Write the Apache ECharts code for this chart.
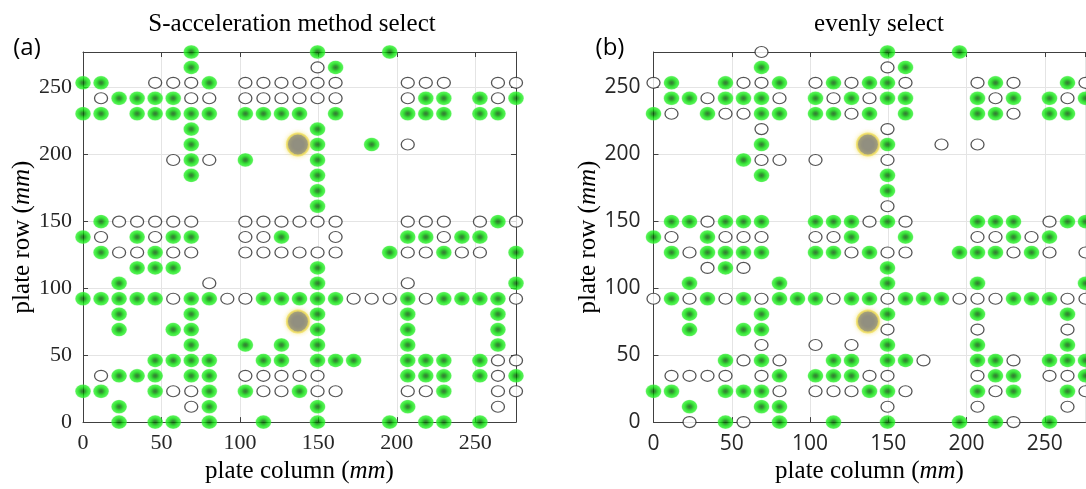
<!DOCTYPE html>
<html>
<head>
<meta charset="utf-8">
<script src="https://cdn.jsdelivr.net/npm/echarts@6/dist/echarts.min.js"></script>
<style>
html,body{margin:0;padding:0;background:#fff;}
#chart{width:1086px;height:489px;}
</style>
</head>
<body>
<div id="chart"></div>
<script>
// plate grid positions (mm), 25 columns / rows
const platePos = [0, 11.5, 23, 34.5, 46, 57.5, 69, 80.5, 92, 103.5, 115, 126.5, 138, 149.5, 161, 172.5, 184, 195.5, 207, 218.5, 230, 241.5, 253, 264.5, 276];
const tickValues = [0, 50, 100, 150, 200, 250];

// (a) S-acceleration method select: column indices per row (row 0 = bottom)
const aGreenCols = [
  [2,4,5,7,10,13,17,19,20,22],
  [2,7,13,18],
  [0,1,4,7,9,12,20],
  [2,3,4,6,7,18,19,20,22,24],
  [4,5,6,7,10,11,13,14,15,18,19,20,22],
  [6,9,11,13,18,23],
  [2,5,6,13,18,23],
  [2,6,13,18,23],
  [0,1,2,3,4,6,7,10,11,12,13,14,18,20,21,22,23],
  [2,13,24],
  [3,4,5,13],
  [1,4,17,20,24],
  [0,3,5,6,11,18,19,21,22],
  [1,23],
  [13],
  [13],
  [6,13],
  [6,9,13],
  [6,13,16],
  [6,13],
  [0,1,3,4,5,6,7,9,10,11,12,14,18,19,20,22,23],
  [2,3,4,5,19,20,22,24],
  [0,1,7],
  [6,14],
  [6,13,17]
];
const aOpenCols = [
  [],
  [6,23],
  [5,6,10,11,13,14,18,19,23,24],
  [1,9,10,11,12,13,23],
  [23,24],
  [],
  [],
  [],
  [5,8,9,15,16,17,19,24],
  [7,18],
  [],
  [2,3,5,6,9,10,11,12,13,14,18,19,21,22],
  [1,4,9,10,14,20],
  [2,3,4,5,6,9,10,11,12,13,14,18,19,20,22,24],
  [],
  [],
  [],
  [5,7],
  [18],
  [],
  [],
  [1,6,7,9,10,11,12,13,14,18,23],
  [4,5,6,9,10,11,12,13,14,18,19,20,23,24],
  [13],
  []
];

// (b) evenly select
const bGreenCols = [
  [4,7,10,13,17,19,22],
  [2,6,7],
  [0,1,4,5,6,12,13,18,20,23],
  [7,9,10,11,19,20,24],
  [4,6,10,11,13,14,18,19,22,23,24],
  [13,18,23],
  [2,5,6],
  [2,6,13,18,23],
  [1,3,5,7,8,9,11,12,14,15,16,20,21,22],
  [2,7,13,18,24],
  [4,13],
  [1,3,4,5,6,9,10,12,17,18,19,21],
  [0,3,11,14,20,22],
  [1,2,4,5,6,9,10,11,13,18,19,20,23,24],
  [],
  [13],
  [6,13],
  [5],
  [6,13],
  [],
  [0,3,6,7,9,10,12,14,18,19,22,23],
  [1,2,4,5,6,9,11,13,14,18,20,22,24],
  [1,4,7,10,12,13,19,23],
  [6,14],
  [13,17]
];
const bOpenCols = [
  [2,5,20],
  [13,18,23],
  [7,9,10,11,14,19,24],
  [1,2,3,4,6,12,13,18,22,23],
  [5,7,15,20],
  [6,9,11],
  [13,18,23],
  [],
  [0,2,4,6,10,13,17,18,19,23,24],
  [],
  [3,5],
  [2,11,13,14,20,22,24],
  [1,4,5,6,9,10,18,19,21],
  [3,12,14,22],
  [13],
  [],
  [],
  [6,7,9,13],
  [16,18],
  [6,13],
  [1,4,5,11,20],
  [3,7,10,12,19,23],
  [0,5,6,9,11,14,18,20,24],
  [13],
  [6]
];

// large grey support points (mm)
const supportPoints = [[137, 207], [137, 75]];

function toPoints(rows) {
  const pts = [];
  rows.forEach(function (cols, r) {
    cols.forEach(function (c) { pts.push([platePos[c], platePos[r]]); });
  });
  return pts;
}

const SERIF = '"Liberation Serif", "Times New Roman", serif';
const SANS = '"Open Sans", "Liberation Sans", sans-serif';

const greenStyle = {
  color: {
    type: 'radial', x: 0.5, y: 0.5, r: 0.5,
    colorStops: [
      { offset: 0, color: '#005a00' },
      { offset: 0.25, color: '#008400' },
      { offset: 0.45, color: '#00c400' },
      { offset: 0.65, color: '#10e610' },
      { offset: 0.88, color: '#2cee2c' },
      { offset: 1, color: 'rgba(80,240,80,0.55)' }
    ]
  }
};
const openStyle = { color: '#ffffff', borderColor: '#2a2a2a', borderWidth: 1.2 };
const greyStyle = { color: '#777777', borderColor: '#f2e060', borderWidth: 2, shadowBlur: 4, shadowColor: 'rgba(240,225,90,0.7)' };

function labelFmt(v) { return tickValues.indexOf(v) >= 0 ? String(v) : ''; }

function mainX(gi, font, size, margin) {
  return {
    gridIndex: gi, type: 'value', position: 'bottom', min: 0, max: 276, interval: 50,
    name: 'plate column ({i|mm})', nameLocation: 'middle', nameGap: 34,
    nameTextStyle: { fontFamily: SERIF, fontSize: 25, color: '#000', rich: { i: { fontFamily: SERIF, fontSize: 25, fontStyle: 'italic', color: '#000' } } },
    axisLine: { show: true, lineStyle: { color: '#404040', width: 1 } },
    axisTick: { show: true, inside: true, length: 5, lineStyle: { color: '#404040' } },
    axisLabel: { fontFamily: font, fontSize: size, color: '#262626', margin: margin, formatter: labelFmt, showMaxLabel: false },
    splitLine: { show: true, lineStyle: { color: '#e4e4e4', width: 1 } }
  };
}
function mainY(gi, font, size, margin, gap) {
  return {
    gridIndex: gi, type: 'value', position: 'left', min: 0, max: 276, interval: 50,
    name: 'plate row ({i|mm})', nameLocation: 'middle', nameGap: gap, nameRotate: 90,
    nameTextStyle: { fontFamily: SERIF, fontSize: 25, color: '#000', rich: { i: { fontFamily: SERIF, fontSize: 25, fontStyle: 'italic', color: '#000' } } },
    axisLine: { show: true, lineStyle: { color: '#404040', width: 1 } },
    axisTick: { show: true, inside: true, length: 5, lineStyle: { color: '#404040' } },
    axisLabel: { fontFamily: font, fontSize: size, color: '#262626', margin: margin, formatter: labelFmt, showMaxLabel: false },
    splitLine: { show: true, lineStyle: { color: '#e4e4e4', width: 1 } }
  };
}
function boxAxis(gi, pos) {
  return {
    gridIndex: gi, type: 'value', position: pos, min: 0, max: 276, interval: 50,
    axisLine: { show: true, onZero: false, lineStyle: { color: '#404040', width: 1 } },
    axisTick: { show: true, inside: true, length: 5, lineStyle: { color: '#404040' } },
    axisLabel: { show: false },
    splitLine: { show: false }
  };
}

function series(xi, yi, data, style, symbolSize, z) {
  return {
    type: 'scatter', xAxisIndex: xi, yAxisIndex: yi, data: data, symbol: 'circle',
    symbolSize: symbolSize, itemStyle: style, clip: false, silent: true, z: z,
    emphasis: { disabled: true }
  };
}

const chart = echarts.init(document.getElementById('chart'), null, { renderer: 'canvas' });
chart.setOption({
  animation: false,
  backgroundColor: '#ffffff',
  grid: [
    { left: 83, top: 52, width: 433, height: 371 },
    { left: 653.5, top: 52, width: 432, height: 371 }
  ],
  xAxis: [
    mainX(0, SERIF, 22, 10),
    boxAxis(0, 'top'),
    mainX(1, SANS, 21, 11),
    boxAxis(1, 'top')
  ],
  yAxis: [
    mainY(0, SERIF, 22, 11, 45),
    boxAxis(0, 'right'),
    mainY(1, SANS, 21, 13, 51)
  ],
  graphic: [
    { type: 'text', style: { text: 'S-acceleration method select', x: 292, y: 24, align: 'center', verticalAlign: 'middle', textAlign: 'center', textVerticalAlign: 'middle', font: '25px ' + SERIF, fill: '#000' } },
    { type: 'text', style: { text: 'evenly select', x: 879, y: 24, align: 'center', verticalAlign: 'middle', textAlign: 'center', textVerticalAlign: 'middle', font: '25px ' + SERIF, fill: '#000' } },
    { type: 'text', style: { text: '(a)', x: 27, y: 48, align: 'center', verticalAlign: 'middle', textAlign: 'center', textVerticalAlign: 'middle', font: '24px ' + SANS, fill: '#000' } },
    { type: 'text', style: { text: '(b)', x: 610, y: 48, align: 'center', verticalAlign: 'middle', textAlign: 'center', textVerticalAlign: 'middle', font: '24px ' + SANS, fill: '#000' } }
  ],
  series: [
    series(0, 0, toPoints(aOpenCols), openStyle, [13, 11], 3),
    series(0, 0, toPoints(aGreenCols), greenStyle, [16, 14], 4),
    series(0, 0, supportPoints, greyStyle, 22, 5),
    series(2, 2, toPoints(bOpenCols), openStyle, [13, 11], 3),
    series(2, 2, toPoints(bGreenCols), greenStyle, [16, 14], 4),
    series(2, 2, supportPoints, greyStyle, 22, 5)
  ]
});
</script>
</body>
</html>
